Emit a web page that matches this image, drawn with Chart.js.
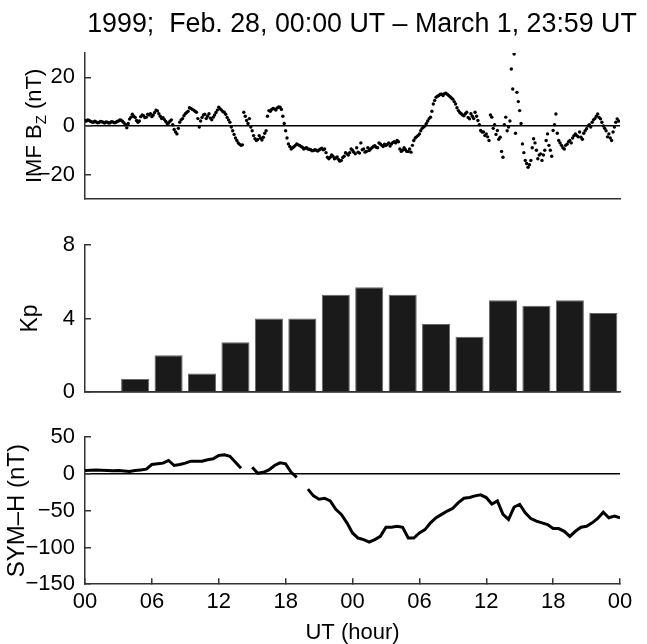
<!DOCTYPE html>
<html>
<head>
<meta charset="utf-8">
<script src="https://cdn.jsdelivr.net/npm/chart.js@4.4.0/dist/chart.umd.min.js"></script>
<style>
  body { margin: 0; background: #fff; width: 647px; height: 644px; position: relative; overflow: hidden; }
  canvas { position: absolute; left: 0; }
</style>
</head>
<body>
<canvas id="bzChart" width="647" height="228" style="top:0px"></canvas>
<canvas id="kpChart" width="647" height="205" style="top:216px"></canvas>
<canvas id="symhChart" width="647" height="238" style="top:408px"></canvas>
<script>
// x axis: hours from Feb 28 00:00 UT
const xTickHours = [0, 6, 12, 18, 24, 30, 36, 42, 48];
const xTickLabels = ['00', '06', '12', '18', '00', '06', '12', '18', '00'];

// IMF Bz (nT), one value every 15 min
const BZ_STEP = 0.25;
const bzValues = [
  2.2, 2.5, 1.8, 1.5,   1.6, 1.4, 1.7, 1.2,   1.5, 1.3, 1.6, 1.4,   2.0, 2.3, 1.2, -0.8,
  2.8, 4.8, 3.5, 1.5,   3.8, 4.2, 3.6, 4.5,   3.8, 5.5, 6.2, 4.0,   3.4, 1.8, 1.2, 2.5,
  -1.5, -3.3, 1.5, 3.0, 5.0, 6.0, 7.2, 6.5,   5.6, -0.5, 3.5, 4.8,  4.0, 3.2, 3.6, 5.5,
  7.7, 6.5, 5.6, 3.5,   1.5, -2.0, -5.0, -7.0, -8.0, 5.6, 2.2, 3.0, -2.0, -5.3, -5.6, -5.0,
  -4.7, -2.0, 6.3, 6.8, 7.0, 7.4, 7.7, 4.0,   -2.0, -7.4, -9.5, -8.6, -7.4, -8.0, -8.8, -9.2,
  -9.5, -9.8, -10.1, -10.0, -9.9, -9.2, -9.5, -12.9, -12.9, -12.5, -13.2, -13.8, -14.2, -12.5, -11.5, -11.0,
  -10.0, -11.5, -10.8, -7.0, -9.5, -10.5, -10.1, -9.0, -8.1, -9.0, -7.4, -8.5, -8.1, -7.0, -7.4, -6.5,
  -6.0, -9.5, -10.0, -9.8, -10.5, -10.8, -6.0, -4.5, -3.3, -1.0, 0.0, 2.0, 3.6, 9.0, 11.8, 12.5,
  13.0, 13.2, 13.0, 12.0, 11.0, 9.0, 6.3, 5.0, 4.2, 5.6, 2.9, 4.0,   5.6, 2.2, -1.9, -2.5,
  -3.3, -6.0, 3.6, 0.5, -1.9, -4.7, -12.9, 3.6, -0.5, 23.4, 29.6, 13.8, 6.3, -7.4, -14.2, -17.0,
  -14.2, -5.3, -10.0, -12.0, -14.2, -10.0, -3.3, -10.0, -1.9, 4.9, -6.0, -8.0, -9.5, -7.5, -6.0, -5.0,
  -3.3, -4.5, -4.7, -3.0, -1.2, 0.5, 1.5, 3.0, 4.9, 2.9, 0.0, -2.0,   -3.3, -6.0, -0.5, 2.9
];
// second reading of the Bz band, 7.5 min after each value above
const bzValuesB = [
  2.0, 2.2, 1.6, 1.9,   1.3, 1.8, 1.5, 1.6,   1.2, 1.7, 1.3, 1.8,   2.4, 1.8, 0.5, 1.0,
  3.6, 4.0, 2.2, 2.0,   4.5, 3.4, 4.8, 5.0,   4.5, 6.5, 5.0, 3.0,   2.6, 1.0, 1.9, 0.5,
  -2.5, -1.0, 2.5, 4.2, 5.5, 7.5, 6.8, 6.0,   3.0, 2.0, 4.5, 3.0,   5.0, 2.5, 4.5, 6.5,
  7.0, 5.8, 4.8, 2.5,   -0.5, -3.5, -6.0, -7.6, -7.8, 4.0, 1.0, -0.5, -4.0, -6.0, -4.0, -5.8,
  -3.0, 4.0, 6.0, 7.2,  6.5, 7.8, 6.8, 1.0,   -5.0, -8.5, -9.0, -8.0, -7.8, -8.5, -9.5, -9.0,
  -9.6, -10.2, -9.8, -10.3, -9.5, -9.8, -11.0, -13.5, -12.0, -13.5, -12.8, -14.5, -13.0, -11.0, -12.0, -9.5,
  -10.8, -9.0, -11.2, -9.8, -10.8, -9.0, -9.5, -8.5, -8.8, -7.0, -8.0, -7.5, -7.6, -8.3, -6.8, -7.0,
  -6.5, -10.5, -9.0, -10.5, -9.5, -8.0, -5.0, -4.0, -2.0, -0.5, 1.0, 3.0, 6.0, 10.5, 12.2, 13.0,
  12.5, 13.5, 12.5, 11.5, 10.0, 7.5, 5.5, 4.5, 5.0, 3.5, 5.0, 3.0,   4.0, 0.5, -2.5, -4.0,
  -4.5, 4.5, -1.0, -3.5, -5.5, -10.5, 0.5, -2.0, 2.0, 15.2, -3.0, 10.0, 1.0, -11.0, -15.5, -16.0,
  -9.0, -7.0, -13.5, -11.5, -12.0, -6.0, -8.0, -12.5, 0.5, -3.0, -7.0, -9.0, -8.0, -6.5, -7.0, -4.0,
  -4.0, -2.5, -5.5, -2.0, 0.0, -0.5, 2.5, 4.0,  3.5, 1.5, -1.0, -4.5,  -5.0, -2.5, 1.5, 2.0
];
const bzTicks = [-20, 0, 20];

// Kp, 3-hour intervals
const kpLabels = ['00', '03', '06', '09', '12', '15', '18', '21', '00', '03', '06', '09', '12', '15', '18', '21'];
const kpValues = [0, 0.7, 2, 1, 2.7, 4, 4, 5.3, 5.7, 5.3, 3.7, 3, 5, 4.7, 5, 4.3];
const kpTicks = [0, 4, 8];

// SYM-H (nT), one value every 30 min (null = data gap)
const SYMH_STEP = 0.5;
const symhValues = [
  4.6, 5, 5.5, 5, 4.6, 4.2, 4.6, 4, 3.2, 4.6, 5.5, 6.5,
  12.8, 13.8, 14.7, 18.3, 11.5, 12.8, 14.7, 17.4, 17.4, 17.4, 19.3, 20.6,
  25.2, 26.1, 24, 16, 7.8, null, 9.2, 0.9, 2.3, 5.5, 11.5, 15.1,
  13.8, 2.3, -4.6, null, -20.6, -29.8, -34.4, -33, -36.7, -48.2, -55, -66.5,
  -80.3, -87.2, -89.4, -92.7, -89.4, -84.9, -72.5, -72.5, -71.1, -72.5, -87.2, -87.2,
  -80.3, -75.7, -66.5, -59.6, -55, -50.5, -46.8, -39, -33, -32.1, -29.8, -28.4,
  -32.1, -41, -36.7, -55, -61.9, -45, -41.3, -52.8, -60.6, -64.2, -66.5, -68.8,
  -74.3, -74.3, -78, -84.9, -78, -72.5, -71.1, -66.5, -60.6, -52, -59.6, -57.3, -59.6
];
const symhTicks = [-150, -100, -50, 0, 50];

const TITLE = '1999;  Feb. 28, 00:00 UT \u2013 March 1, 23:59 UT';
const FONT = '"Liberation Sans", Arial, sans-serif';
const AXIS_COLOR = '#333';
const minus = v => String(v).replace('-', '\u2212');

// shared pieces
function yAxis(min, max, ticks, extra) {
  return Object.assign({
    position: 'left',
    min: min, max: max,
    afterFit(axis) { axis.width = 85; },
    afterBuildTicks(axis) { axis.ticks = ticks.map(v => ({ value: v })); },
    border: { display: true, color: AXIS_COLOR, width: 1.5 },
    grid: {
      drawOnChartArea: true,
      drawTicks: true,
      tickLength: -6,
      tickColor: AXIS_COLOR,
      lineWidth: 1.5,
      color: c => (c.tick && c.tick.value === 0 ? '#000' : 'rgba(0,0,0,0)')
    },
    ticks: { color: '#000', padding: 16, font: { family: FONT, size: 22 }, callback: v => minus(v) }
  }, extra || {});
}

function hiddenX(extra) {
  return Object.assign({
    border: { display: true, color: AXIS_COLOR, width: 1.5 },
    grid: { drawOnChartArea: false, drawTicks: false },
    ticks: { display: false }
  }, extra);
}

const common = {
  responsive: false,
  animation: false,
  events: [],
  plugins: { legend: { display: false }, tooltip: { enabled: false } }
};

// figure title and the y label with subscript for the Bz panel
const bzLabels = {
  id: 'bzLabels',
  afterDraw(chart) {
    const { ctx, chartArea } = chart;
    ctx.save();
    ctx.fillStyle = '#000';
    ctx.font = '26.8px ' + FONT;
    ctx.textAlign = 'center';
    ctx.textBaseline = 'middle';
    ctx.fillText(TITLE, 362, 25);

    const big = '22px ' + FONT, small = '15px ' + FONT;
    ctx.font = big;
    const w1 = ctx.measureText('IMF B').width;
    const w3 = ctx.measureText(' (nT)').width;
    ctx.font = small;
    const w2 = ctx.measureText('Z').width;
    const total = w1 + w2 + w3;
    ctx.translate(41, (chartArea.top + chartArea.bottom) / 2);
    ctx.rotate(-Math.PI / 2);
    ctx.textAlign = 'left';
    ctx.textBaseline = 'alphabetic';
    let x = -total / 2;
    ctx.font = big; ctx.fillText('IMF B', x, 0); x += w1;
    ctx.font = small; ctx.fillText('Z', x, 5); x += w2;
    ctx.font = big; ctx.fillText(' (nT)', x, 0);
    ctx.restore();
  }
};

const bzDots = {
  pointRadius: 1.7,
  pointBorderWidth: 0,
  pointBackgroundColor: '#000',
  showLine: false
};

window.onload = () => {
  new Chart(document.getElementById('bzChart'), {
    type: 'scatter',
    data: {
      datasets: [
        Object.assign({ data: bzValues.map((v, i) => ({ x: i * BZ_STEP, y: v })) }, bzDots),
        Object.assign({ data: bzValuesB.map((v, i) => ({ x: (i + 0.5) * BZ_STEP, y: v })) }, bzDots)
      ]
    },
    options: Object.assign({}, common, {
      layout: { padding: { top: 53, right: 27, bottom: 14, left: 0 } },
      scales: {
        x: hiddenX({ type: 'linear', min: 0, max: 48 }),
        y: yAxis(-30, 30, bzTicks)
      }
    }),
    plugins: [bzLabels]
  });

  new Chart(document.getElementById('kpChart'), {
    type: 'bar',
    data: {
      labels: kpLabels,
      datasets: [{
        data: kpValues,
        backgroundColor: '#1a1a1a',
        borderColor: '#666',
        borderWidth: 1,
        barPercentage: 0.84,
        categoryPercentage: 1
      }]
    },
    options: Object.assign({}, common, {
      layout: { padding: { top: 5, right: 27, bottom: 11, left: 0 } },
      scales: {
        x: hiddenX({ type: 'category', offset: true }),
        y: yAxis(0, 8, kpTicks, {
          title: { display: true, text: 'Kp', color: '#000', font: { family: FONT, size: 23 }, padding: { top: 17 } }
        })
      }
    })
  });

  new Chart(document.getElementById('symhChart'), {
    type: 'line',
    data: {
      datasets: [{
        data: symhValues.map((v, i) => ({ x: i * SYMH_STEP, y: v })),
        borderColor: '#000',
        borderWidth: 3,
        pointRadius: 0,
        spanGaps: false,
        tension: 0
      }]
    },
    options: Object.assign({}, common, {
      layout: { padding: { top: 7, right: 27, bottom: 0, left: 0 } },
      scales: {
        x: {
          type: 'linear',
          min: 0, max: 48,
          afterBuildTicks(axis) { axis.ticks = xTickHours.map(v => ({ value: v })); },
          border: { display: true, color: AXIS_COLOR, width: 1.5 },
          grid: { drawOnChartArea: false, drawTicks: true, tickLength: -6, tickColor: AXIS_COLOR, lineWidth: 1.5 },
          ticks: {
            color: '#000', padding: 11, maxRotation: 0,
            font: { family: FONT, size: 22 },
            callback: (v, i) => xTickLabels[i]
          },
          title: { display: true, text: 'UT (hour)', color: '#000', font: { family: FONT, size: 22 }, padding: { top: -7, bottom: 0 } }
        },
        y: yAxis(-150, 50, symhTicks, {
          title: { display: true, text: 'SYM\u2013H (nT)', color: '#000', font: { family: FONT, size: 24 }, padding: { top: 3 } }
        })
      }
    })
  });
};
</script>
</body>
</html>
